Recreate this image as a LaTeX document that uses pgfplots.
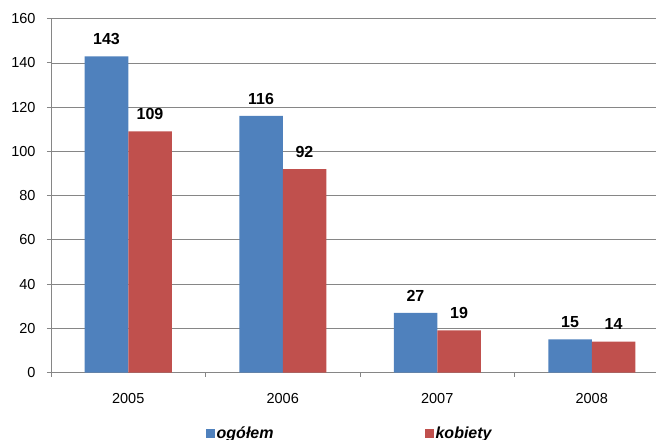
\documentclass[border=0pt]{standalone}
\usepackage{fontspec}
\setmainfont{Liberation Sans}
\usepackage{pgfplots}
\pgfplotsset{compat=1.18}
\definecolor{cblue}{HTML}{4F81BD}
\definecolor{cred}{HTML}{C0504D}
\definecolor{gridc}{RGB}{134,134,134}
\begin{document}
\begin{tikzpicture}
\path[use as bounding box] (-51bp,-66.7bp) rectangle (605bp,372.5bp);
\begin{axis}[
  anchor=south west, at={(0,0)},
  scale only axis, width=618bp, height=353.8bp,
  ybar, bar width=43.5bp,
  xmin=-0.5, xmax=3.5, ymin=0, ymax=160,
  ytick={0,20,...,160},
  xtick={0,1,2,3}, xticklabels={2005,2006,2007,2008},
  minor xtick={-0.5,0.5,1.5,2.5,3.5},
  axis lines*=left,
  axis line style={gridc, line width=1bp, -},
  tick align=outside,
  major tick length=4bp, minor tick length=4bp,
  x tick style={draw=none},
  minor x tick style={draw=gridc, line width=1bp},
  y tick style={gridc, line width=1bp},
  ymajorgrids,
  grid style={gridc, line width=0.8bp},
  /pgf/number format/assume math mode=true,
  ticklabel style={font=\fontsize{14.5bp}{17bp}\selectfont},
  yticklabel style={xshift=-8bp},
  xticklabel style={yshift=-13bp},
  nodes near coords,
  every node near coord/.append style={font=\bfseries\fontsize{16bp}{18bp}\selectfont, inner sep=0pt, yshift=11.5bp, text=black},
  legend columns=2,
  legend style={at={(axis description cs:0.2508,-0.1715)}, anchor=west, draw=none, fill=none, inner sep=0pt,
    font=\bfseries\itshape\fontsize{16bp}{18bp}\selectfont,
    /tikz/every even column/.append style={column sep=150bp},
    nodes={inner xsep=1.5bp, inner ysep=0pt}},
  legend cell align=left,
]
\addplot[fill=cblue, draw=none, bar shift=-21.75bp,
  legend image code/.code={\fill[cblue] (0bp,-4.5bp) rectangle (9bp,4.5bp);}]
  coordinates {(0,143) (1,116) (2,27) (3,15)};
\addplot[fill=cred, draw=none, bar shift=21.75bp,
  legend image code/.code={\fill[cred] (0bp,-4.5bp) rectangle (9bp,4.5bp);}]
  coordinates {(0,109) (1,92) (2,19) (3,14)};
\legend{ogółem, kobiety}
\end{axis}
\end{tikzpicture}
\end{document}
